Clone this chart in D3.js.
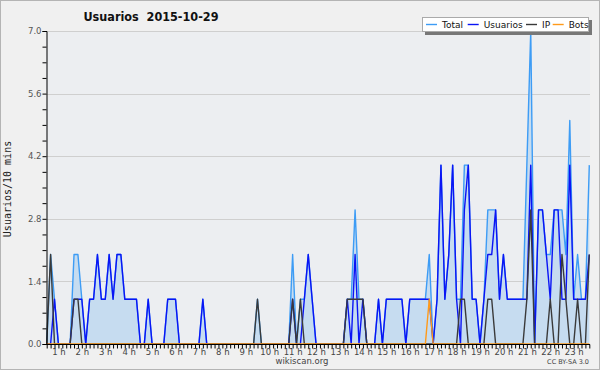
<!DOCTYPE html>
<html>
<head>
<meta charset="utf-8">
<script src="https://cdn.jsdelivr.net/npm/d3@7"></script>
<style>
  body { margin: 0; background: #fff; }
  svg { display: block; }
</style>
</head>
<body>
<svg id="chart" width="600" height="370"></svg>
<script>
// 10-minute slots, index 3 (00:30) .. 142 (23:40)
const slotStart = 3;
const usuarios = [
  0,0,1,0,0,0,0,1,1,1, 0,1,1,2,1,1,2,1,2,2,
  1,1,1,1,0,0,1,0,0,0, 0,1,1,1,0,0,0,0,0,0,
  1,0,0,0,0,0,0,0,0,0, 0,0,0,0,0,0,0,0,0,0,
  0,0,0,1,0,0,1,2,1,0, 0,0,0,0,0,0,0,1,0,2,
  0,1,0,0,0,1,0,1,1,1, 1,1,0,1,1,1,1,1,1,0,
  1,4,1,2,4,1,0,3,4,1, 1,0,1,2,2,3,1,2,1,1,
  1,1,1,1,4,0,3,3,2,1, 3,3,1,1,4,1,1,1,1,2
];
const ip = [
  0,2,0,0,0,0,0,1,1,0, 0,0,0,0,0,0,0,0,0,0,
  0,0,0,0,0,0,0,0,0,0, 0,0,0,0,0,0,0,0,0,0,
  0,0,0,0,0,0,0,0,0,0, 0,0,0,0,1,0,0,0,0,0,
  0,0,0,1,0,1,0,0,0,0, 0,0,0,0,0,0,0,1,1,1,
  1,1,0,0,0,0,0,0,0,0, 0,0,0,0,0,0,0,0,0,0,
  0,0,0,0,0,0,1,1,0,0, 0,0,0,1,1,0,0,0,0,0,
  0,0,0,1,3,0,0,0,0,1, 0,0,2,1,0,0,1,0,0,2
];
const bots = [
  0,0,0,0,0,0,0,0,0,0, 0,0,0,0,0,0,0,0,0,0,
  0,0,0,0,0,0,0,0,0,0, 0,0,0,0,0,0,0,0,0,0,
  0,0,0,0,0,0,0,0,0,0, 0,0,0,0,0,0,0,0,0,0,
  0,0,0,0,0,0,0,0,0,0, 0,0,0,0,0,0,0,0,0,0,
  0,0,0,0,0,0,0,0,0,0, 0,0,0,0,0,0,0,0,1,0,
  0,0,0,0,0,0,0,0,0,0, 0,0,0,0,0,0,0,0,0,0,
  0,0,0,0,0,0,0,0,0,0, 0,0,0,0,0,0,0,0,0,0
];
const total = [
  0,2,1,0,0,0,0,2,2,1, 0,1,1,2,1,1,2,1,2,2,
  1,1,1,1,0,0,1,0,0,0, 0,1,1,1,0,0,0,0,0,0,
  1,0,0,0,0,0,0,0,0,0, 0,0,0,0,1,0,0,0,0,0,
  0,0,0,2,0,1,1,2,1,0, 0,0,0,0,0,0,0,1,1,3,
  1,1,0,0,0,1,0,1,1,1, 1,1,0,1,1,1,1,1,2,0,
  1,4,1,2,4,1,1,4,4,1, 1,0,1,3,3,3,1,2,1,1,
  1,1,1,4,7,0,3,3,2,2, 3,3,3,2,5,1,2,1,1,4
];
const yTicks = [0, 1.4, 2.8, 4.2, 5.6, 7.0];
const hourLabels = d3.range(1, 24).map(h => h + " h");
const series = [
  {name: "Total", values: total, color: "#3d9cf5"},
  {name: "Usuarios", values: usuarios, color: "#0a14f5"},
  {name: "IP", values: ip, color: "#3a3a3a"},
  {name: "Bots", values: bots, color: "#ff9a1a"}
];

const svg = d3.select("#chart");
const W = 600, H = 370;
const m = {left: 46, right: 10, top: 31, bottom: 26};

// fond + cadre
svg.append("rect").attr("x", 0.5).attr("y", 0.5).attr("width", W - 1).attr("height", H - 1)
  .attr("fill", "#f0f0f0").attr("stroke", "#b4b4b4");
svg.append("rect").attr("x", m.left).attr("y", m.top)
  .attr("width", W - m.left - m.right).attr("height", H - m.top - m.bottom)
  .attr("fill", "#eceef1");

const x = d3.scaleLinear().domain([slotStart, slotStart + total.length - 1])
  .range([46.7, 589.3]);
const y = d3.scaleLinear().domain([0, 7]).range([H - m.bottom, m.top]);

// grille
svg.append("g").selectAll("line").data(yTicks.slice(1)).enter().append("line")
  .attr("x1", m.left).attr("x2", W - m.right)
  .attr("y1", d => Math.round(y(d)) + 0.5).attr("y2", d => Math.round(y(d)) + 0.5)
  .attr("stroke", "#cfcfcf");

// aire du total
const area = d3.area().x((d, i) => x(slotStart + i)).y0(y(0)).y1(d => y(d));
svg.append("path").datum(total).attr("d", area).attr("fill", "#c6dcf0");

const line = d3.line().x((d, i) => x(slotStart + i)).y(d => y(d));
series.forEach(s => {
  svg.append("path").datum(s.values).attr("d", line)
    .attr("fill", "none").attr("stroke", s.color).attr("stroke-width", 1.4)
    .attr("stroke-linejoin", "round");
});

// axe Y
const yAxis = d3.axisLeft(y).tickValues(d3.range(0, 7.001, 0.35)).tickSize(4)
  .tickFormat(d => yTicks.some(t => Math.abs(t - d) < 1e-6) ? d.toFixed(1) : "");
const gy = svg.append("g").attr("transform", `translate(${m.left + 0.5},0)`).call(yAxis);
gy.select(".domain").attr("stroke", "#000");
gy.selectAll("text").attr("font-family", "DejaVu Sans").attr("font-size", 8.5)
  .attr("fill", "#555").attr("x", -5);

// axe X
const xAxis = d3.axisBottom(x).tickValues(d3.range(slotStart, slotStart + total.length)).tickSize(4)
  .tickFormat(d => d % 6 === 0 ? hourLabels[d / 6 - 1] : "");
const gx = svg.append("g").attr("transform", `translate(0,${H - m.bottom + 0.5})`).call(xAxis);
gx.select(".domain").attr("stroke", "#000").attr("d", `M${m.left},0H${W - m.right}`);
gx.selectAll("text").attr("font-family", "DejaVu Sans").attr("font-size", 8.5)
  .attr("fill", "#444").attr("y", 4);

// titre
svg.append("text").attr("x", 151).attr("y", 21).attr("text-anchor", "middle")
  .attr("font-family", "DejaVu Sans Condensed, DejaVu Sans").attr("font-weight", "bold")
  .attr("font-size", 12.5).attr("fill", "#111").attr("xml:space", "preserve")
  .text("Usuarios  2015-10-29");

// label Y
svg.append("text").attr("transform", "translate(11,189) rotate(-90)")
  .attr("text-anchor", "middle").attr("font-family", "DejaVu Sans Mono")
  .attr("font-size", 10).attr("fill", "#222").text("Usuarios/10 mins");

// pied
svg.append("text").attr("x", 302).attr("y", 364).attr("text-anchor", "middle")
  .attr("font-family", "DejaVu Sans").attr("font-size", 8.5).attr("fill", "#444")
  .text("wikiscan.org");
svg.append("text").attr("x", 589).attr("y", 364).attr("text-anchor", "end")
  .attr("font-family", "DejaVu Sans").attr("font-size", 6.5).attr("fill", "#444")
  .text("CC BY-SA 3.0");

// légende
const lg = svg.append("g");
lg.append("rect").attr("x", 425).attr("y", 20).attr("width", 167).attr("height", 15).attr("fill", "#777");
lg.append("rect").attr("x", 422.5).attr("y", 17.5).attr("width", 166).attr("height", 14)
  .attr("fill", "#fff").attr("stroke", "#aaa");
const lgX = [426, 467.7, 526, 552.7];
series.forEach((s, i) => {
  lg.append("line").attr("x1", lgX[i]).attr("x2", lgX[i] + 11).attr("y1", 24.5).attr("y2", 24.5)
    .attr("stroke", s.color).attr("stroke-width", 1.4);
  lg.append("text").attr("x", lgX[i] + 16).attr("y", 28)
    .attr("font-family", "DejaVu Sans").attr("font-size", 9)
    .attr("fill", "#111").text(s.name);
});
</script>
</body>
</html>
